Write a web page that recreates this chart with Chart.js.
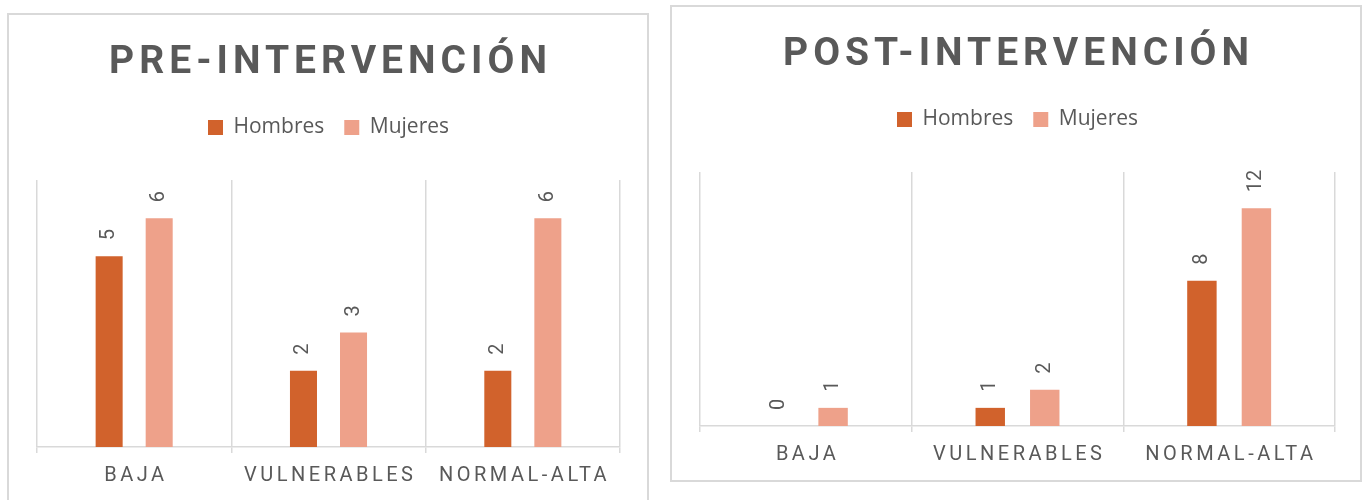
<!DOCTYPE html>
<html lang="es">
<head>
<meta charset="utf-8">
<script src="https://cdn.jsdelivr.net/npm/chart.js@4.4.1/dist/chart.umd.min.js"></script>
<style>
  html, body { margin: 0; padding: 0; background: #fff; overflow: hidden; }
  body { width: 1369px; height: 500px; position: relative; }
  .panel { position: absolute; border: 2px solid #D9D9D9; background: #fff; }
  #prePanel { left: 7px; top: 13px; width: 638px; height: 516px; }
  #postPanel { left: 670px; top: 5px; width: 688px; height: 473px; }
  canvas { display: block; }
</style>
</head>
<body>
<div class="panel" id="prePanel"><canvas id="preChart" width="638" height="516"></canvas></div>
<div class="panel" id="postPanel"><canvas id="postChart" width="688" height="473"></canvas></div>
<script>
// Categories and series
const categories = ['BAJA', 'VULNERABLES', 'NORMAL-ALTA'];
const seriesNames = ['Hombres', 'Mujeres'];
const preHombres = [5, 2, 2];
const preMujeres = [6, 3, 6];
const postHombres = [0, 1, 8];
const postMujeres = [1, 2, 12];
const preTitle = 'PRE-INTERVENCIÓN';
const postTitle = 'POST-INTERVENCIÓN';

const GRAY = '#595959';
const GRID = '#D9D9D9';
const HOMBRES_COLOR = '#D1622C';
const MUJERES_COLOR = '#EEA18A';

// Draw text centred on cx while letterSpacing is set (the spacing is also added after the last glyph)
function drawSpaced(ctx, text, cx, y, spacing) {
    const w = ctx.measureText(text).width - spacing;
    ctx.fillText(text, cx - w / 2, y);
}

// Title and category names carry letter spacing, so they are painted here
const spacedText = {
    id: 'spacedText',
    beforeInit(chart) {
        // make the legend box taller so the plot starts further down
        if (!chart.legend) return;
        const fit = chart.legend.fit;
        chart.legend.fit = function () {
            fit.call(this);
            this.height = chart.options.plugins.spacedText.legendHeight;
        };
    },
    afterDraw(chart, args, opts) {
        const ctx = chart.ctx;
        const area = chart.chartArea;
        const xScale = chart.scales.x;
        ctx.save();
        ctx.fillStyle = GRAY;
        ctx.textAlign = 'left';
        ctx.textBaseline = 'alphabetic';

        ctx.font = 'bold 39px Roboto';
        ctx.letterSpacing = '5px';
        drawSpaced(ctx, opts.title, chart.width / 2, opts.titleY, 5);

        ctx.font = '20px Roboto';
        ctx.letterSpacing = '3.5px';
        xScale.getLabels().forEach((label, i) => {
            drawSpaced(ctx, label, xScale.getPixelForValue(i), area.bottom + 34, 3.5);
        });
        ctx.restore();
    }
};

// Value labels, turned on their side above each bar
const barValues = {
    id: 'barValues',
    afterDatasetsDraw(chart) {
        const ctx = chart.ctx;
        ctx.save();
        ctx.fillStyle = GRAY;
        ctx.font = '20px Roboto';
        ctx.textAlign = 'left';
        ctx.textBaseline = 'middle';
        chart.data.datasets.forEach((ds, di) => {
            chart.getDatasetMeta(di).data.forEach((bar, i) => {
                ctx.save();
                ctx.translate(bar.x, bar.y - 16);
                ctx.rotate(-Math.PI / 2);
                ctx.fillText(String(ds.data[i]), 0, 0);
                ctx.restore();
            });
        });
        ctx.restore();
    }
};

function buildChart(canvasId, title, hombres, mujeres, yMax, pad) {
    return new Chart(document.getElementById(canvasId), {
        type: 'bar',
        data: {
            labels: categories,
            datasets: [
                { label: seriesNames[0], data: hombres, backgroundColor: HOMBRES_COLOR },
                { label: seriesNames[1], data: mujeres, backgroundColor: MUJERES_COLOR }
            ]
        },
        options: {
            responsive: false,
            animation: false,
            events: [],
            categoryPercentage: 0.515,
            barPercentage: 0.54,
            layout: { padding: pad },
            scales: {
                x: {
                    grid: { color: GRID, lineWidth: 1.5, tickLength: 6, drawTicks: true },
                    border: { color: GRID, width: 1.5 },
                    ticks: { display: false }
                },
                y: { display: false, min: 0, max: yMax }
            },
            plugins: {
                title: { display: false },
                tooltip: { enabled: false },
                legend: {
                    position: 'top',
                    labels: {
                        boxWidth: 15,
                        boxHeight: 15,
                        padding: 20,
                        color: GRAY,
                        font: { family: '"Open Sans"', size: 21 }
                    }
                },
                spacedText: { title: title, titleY: 58, legendHeight: 83 }
            }
        },
        plugins: [spacedText, barValues]
    });
}

// Build both charts
buildChart('preChart', preTitle, preHombres, preMujeres, 7,
    { top: 82, left: 28, right: 27, bottom: 78 });
buildChart('postChart', postTitle, postHombres, postMujeres, 14,
    { top: 82, left: 28, right: 25, bottom: 48 });
</script>
</body>
</html>
